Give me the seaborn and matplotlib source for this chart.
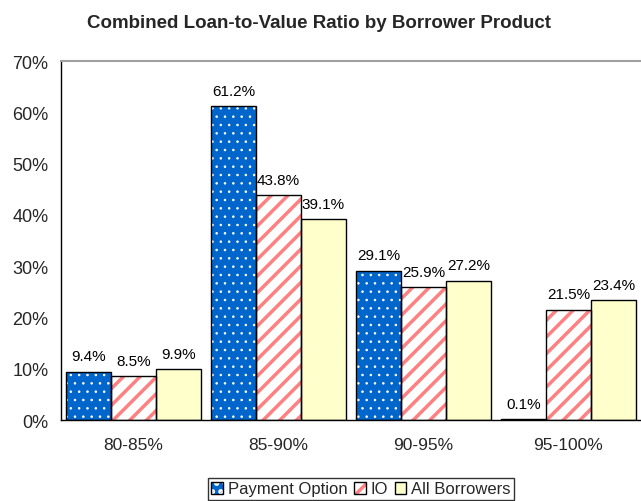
import pandas as pd
import matplotlib
matplotlib.use("Agg")
import matplotlib.pyplot as plt
from matplotlib.patches import Rectangle, Patch
from matplotlib.legend_handler import HandlerTuple
import seaborn as sns

# chart values
ranges = ["80-85%", "85-90%", "90-95%", "95-100%"]
payment_option = [9.4, 61.2, 29.1, 0.1]
io = [8.5, 43.8, 25.9, 21.5]
all_borrowers = [9.9, 39.1, 27.2, 23.4]
series = ["Payment Option", "IO", "All Borrowers"]
yticks = [0, 10, 20, 30, 40, 50, 60, 70]

face = {"Payment Option": "#0066CC", "IO": "white", "All Borrowers": "#FFFFCC"}
hatch = {"Payment Option": "..", "IO": "//", "All Borrowers": ""}
hatch_col = {"Payment Option": "white", "IO": "#FF8080", "All Borrowers": "#FFFFCC"}
hatch_lw = {"Payment Option": 0.6, "IO": 2.5, "All Borrowers": 1.0}

df = pd.DataFrame({
    "range": ranges * 3,
    "series": [s for s in series for _ in ranges],
    "value": payment_option + io + all_borrowers,
})

sns.set_style("white")
plt.rcParams["font.family"] = ["Liberation Sans", "DejaVu Sans"]
plt.rcParams["hatch.linewidth"] = 2.5


def style_patch(p, s):
    p.set_facecolor(face[s])
    p.set_hatch(hatch[s])
    p.set_edgecolor(hatch_col[s])
    p.set_linewidth(0)
    if hasattr(p, "set_hatch_linewidth"):
        p.set_hatch_linewidth(hatch_lw[s])
    else:
        p._hatch_linewidth = hatch_lw[s]


fig = plt.figure(figsize=(6.41, 5.02), dpi=100)
ax = fig.add_axes([61 / 641, 1 - 421 / 502, 580 / 641, 359 / 502])

sns.barplot(data=df, x="range", y="value", hue="series", hue_order=series,
            order=ranges, width=0.93, palette=face, ax=ax, legend=False,
            saturation=1)

# hatch fill, then a black outline on top of every bar
for cont, s in zip(ax.containers, series):
    for p in cont.patches:
        style_patch(p, s)
        ax.add_patch(Rectangle((p.get_x(), p.get_y()), p.get_width(), p.get_height(),
                               fill=False, edgecolor="black", linewidth=1, zorder=3))
    labels = [f"{v:.1f}%" for v in cont.datavalues]
    ax.bar_label(cont, labels=labels, padding=6, fontsize=11, color="black")

ax.set_ylim(0, 70)
ax.set_xlim(-0.5, len(ranges) - 0.5)
ax.set_yticks(yticks)
ax.set_yticklabels([f"{t}%" for t in yticks], fontsize=13)
ax.set_xticks(range(len(ranges)))
ax.set_xticklabels(ranges, fontsize=12.5)
ax.set_xticks([i - 0.5 for i in range(len(ranges) + 1)], minor=True)
ax.tick_params(axis="x", which="major", length=0, pad=12)
ax.tick_params(axis="x", which="minor", length=5, width=1, color="black", direction="out")
ax.tick_params(axis="y", length=5, width=1, color="black", direction="out", pad=4)
ax.set_xlabel("")
ax.set_ylabel("")

for side in ["left", "bottom"]:
    ax.spines[side].set_color("black")
    ax.spines[side].set_linewidth(1)
ax.spines["top"].set_color("#A0A0A0")
ax.spines["top"].set_linewidth(1.5)
ax.spines["right"].set_visible(False)

fig.suptitle("Combined Loan-to-Value Ratio by Borrower Product", fontsize=13.5,
             fontweight="bold", x=319 / 641, y=1 - 24 / 502, va="center")

handles = []
for s in series:
    fill = Patch(facecolor=face[s], edgecolor=hatch_col[s], hatch=hatch[s], linewidth=0)
    style_patch(fill, s)
    outline = Patch(fill=False, edgecolor="black", linewidth=1)
    handles.append((fill, outline))
leg = fig.legend(handles, series, loc="center", bbox_to_anchor=(361 / 641, 1 - 490 / 502),
                 ncol=3, fontsize=12, frameon=True, fancybox=False, edgecolor="black",
                 handlelength=0.7, handleheight=0.7, handletextpad=0.3,
                 columnspacing=0.4, borderpad=0.2, borderaxespad=0,
                 handler_map={tuple: HandlerTuple(ndivide=1, pad=0)})
leg.get_frame().set_linewidth(1)

fig.savefig("out.png", dpi=100)
